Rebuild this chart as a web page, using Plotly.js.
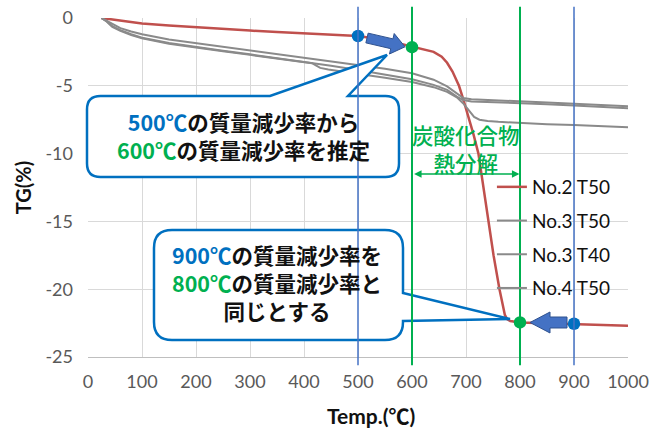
<!DOCTYPE html>
<html><head><meta charset="utf-8">
<script src="https://cdn.plot.ly/plotly-3.0.1.min.js"></script>
<style>html,body{margin:0;padding:0;background:#fff}#chart{width:650px;height:430px}</style>
</head><body><div id="chart"></div>
<script>
// ---------- data ----------
const seriesNames = ['No.2 T50', 'No.3 T50', 'No.3 T40', 'No.4 T50'];

const no2T50_T  = [25, 50, 100, 150, 200, 250, 300, 350, 400, 450, 500, 550, 575, 600, 620, 640, 655, 665, 675, 687, 695, 705, 714, 723, 732, 741, 751, 762, 768, 772, 776, 782, 800, 850, 900, 950, 1000];
const no2T50_TG = [0, -0.15, -0.4, -0.56, -0.7, -0.82, -0.93, -1.03, -1.13, -1.23, -1.33, -1.63, -1.88, -2.15, -2.3, -2.5, -2.85, -3.3, -3.95, -5.0, -6.0, -7.3, -8.6, -10.0, -12.5, -15.0, -17.5, -20.0, -21.2, -21.9, -22.2, -22.35, -22.45, -22.5, -22.55, -22.62, -22.7];

const no3T50_T  = [25, 35, 45, 60, 80, 100, 150, 200, 250, 300, 350, 400, 450, 500, 550, 600, 640, 665, 683, 695, 710, 750, 800, 850, 900, 950, 1000];
const no3T50_TG = [0, -0.2, -0.45, -0.75, -1.0, -1.2, -1.58, -1.85, -2.1, -2.35, -2.62, -2.9, -3.18, -3.47, -3.75, -4.08, -4.55, -5.05, -5.6, -5.9, -6.0, -6.05, -6.15, -6.23, -6.32, -6.41, -6.5];

const no3T40_T  = [25, 35, 45, 60, 80, 100, 150, 200, 250, 300, 350, 400, 450, 500, 550, 600, 640, 665, 683, 695, 710, 750, 800, 850, 900, 950, 1000];
const no3T40_TG = [0, -0.25, -0.6, -0.9, -1.2, -1.45, -1.85, -2.15, -2.42, -2.68, -2.95, -3.22, -3.52, -3.83, -4.15, -4.52, -4.93, -5.3, -5.8, -6.05, -6.15, -6.2, -6.28, -6.36, -6.46, -6.56, -6.66];

const no4T50_T  = [25, 35, 45, 60, 80, 100, 150, 200, 250, 300, 350, 400, 415, 422, 430, 445, 500, 550, 600, 640, 665, 683, 695, 705, 715, 725, 740, 760, 800, 850, 900, 950, 1000];
const no4T50_TG = [0, -0.28, -0.65, -0.95, -1.25, -1.5, -1.9, -2.2, -2.46, -2.72, -2.98, -3.25, -3.33, -3.5, -3.68, -3.8, -4.1, -4.4, -4.72, -5.1, -5.45, -5.85, -6.3, -6.8, -7.3, -7.5, -7.6, -7.66, -7.76, -7.84, -7.9, -7.97, -8.05];

// marked points (500/600/800/900 °C on No.2 T50)
const markT  = [500, 600, 800, 900];
const markTG = [-1.33, -2.15, -22.45, -22.55];

const refLineT = [500, 600, 800, 900];

const xTickVals = [0, 100, 200, 300, 400, 500, 600, 700, 800, 900, 1000];
const xTickText = ['0', '100', '200', '300', '400', '500', '600', '700', '800', '900', '1000'];
const yTickVals = [0, -5, -10, -15, -20, -25];
const yTickText = ['0', '-5', '-10', '-15', '-20', '-25'];

// ---------- styling ----------
const RED = '#C0504D', GRAY = '#8A8A8A', BLUE = '#4472C4', DBLUE = '#0070C0', GREEN = '#00B050';
const markColors = [DBLUE, GREEN, GREEN, DBLUE];
const refLineColors = [BLUE, GREEN, GREEN, BLUE];
const refLineWidths = [1.5, 2, 2, 1.5];

const W = 650, H = 430, ML = 88, MR = 22, MT = 18, MB = 73;
const PW = W - ML - MR, PH = H - MT - MB;
const px = (x) => ((x - ML) / PW).toFixed(5);
const py = (y) => ((H - MB - y) / PH).toFixed(5);
const P = (x, y) => px(x) + ',' + py(y);

function calloutTop(x0, y0, x1, y1, r, b0, b1, tx, ty) {
  return 'M' + P(x0 + r, y0) + ' L' + P(b0, y0) + ' L' + P(tx, ty) + ' L' + P(b1, y0) +
    ' L' + P(x1 - r, y0) + ' Q' + P(x1, y0) + ' ' + P(x1, y0 + r) +
    ' L' + P(x1, y1 - r) + ' Q' + P(x1, y1) + ' ' + P(x1 - r, y1) +
    ' L' + P(x0 + r, y1) + ' Q' + P(x0, y1) + ' ' + P(x0, y1 - r) +
    ' L' + P(x0, y0 + r) + ' Q' + P(x0, y0) + ' ' + P(x0 + r, y0) + ' Z';
}
function calloutRight(x0, y0, x1, y1, r, b0, b1, tx, ty) {
  return 'M' + P(x0 + r, y0) + ' L' + P(x1 - r, y0) + ' Q' + P(x1, y0) + ' ' + P(x1, y0 + r) +
    ' L' + P(x1, b0) + ' L' + P(tx, ty) + ' L' + P(x1, b1) +
    ' L' + P(x1, y1 - r) + ' Q' + P(x1, y1) + ' ' + P(x1 - r, y1) +
    ' L' + P(x0 + r, y1) + ' Q' + P(x0, y1) + ' ' + P(x0, y1 - r) +
    ' L' + P(x0, y0 + r) + ' Q' + P(x0, y0) + ' ' + P(x0 + r, y0) + ' Z';
}
function blockArrow(tx0, ty0, hx, hy, bw, hw, hl) {
  const dx = hx - tx0, dy = hy - ty0, L = Math.hypot(dx, dy);
  const ux = dx / L, uy = dy / L, nx = -uy, ny = ux;
  const bx = hx - ux * hl, by = hy - uy * hl;
  const pts = [
    [tx0 + nx * bw, ty0 + ny * bw], [bx + nx * bw, by + ny * bw], [bx + nx * hw, by + ny * hw],
    [hx, hy],
    [bx - nx * hw, by - ny * hw], [bx - nx * bw, by - ny * bw], [tx0 - nx * bw, ty0 - ny * bw]
  ];
  return 'M' + pts.map(p => P(p[0], p[1])).join(' L') + ' Z';
}

const traces = [
  {x: no2T50_T, y: no2T50_TG, name: seriesNames[0], legendgroup: 'a', mode: 'lines', line: {color: RED, width: 2.5}},
  {x: no3T50_T, y: no3T50_TG, name: seriesNames[1], legendgroup: 'b', mode: 'lines', line: {color: GRAY, width: 2}},
  {x: no3T40_T, y: no3T40_TG, name: seriesNames[2], legendgroup: 'c', mode: 'lines', line: {color: GRAY, width: 2}},
  {x: no4T50_T, y: no4T50_TG, name: seriesNames[3], legendgroup: 'd', mode: 'lines', line: {color: GRAY, width: 2}},
  {x: markT, y: markTG, mode: 'markers', showlegend: false, hoverinfo: 'skip',
   marker: {size: 12.5, color: markColors, line: {width: 0}}}
];

const shapes = [];
shapes.push({type: 'path', xref: 'paper', yref: 'paper', layer: 'above',
  path: calloutTop(87, 96, 399, 177, 13.5, 270, 348, 387, 55),
  line: {color: DBLUE, width: 2.5}, fillcolor: '#FFFFFF'});
shapes.push({type: 'path', xref: 'paper', yref: 'paper', layer: 'above',
  path: calloutRight(154, 230, 403, 340, 18, 293, 321, 510, 319),
  line: {color: DBLUE, width: 2.5}, fillcolor: '#FFFFFF'});
refLineT.forEach((t, i) => {
  shapes.push({type: 'line', xref: 'x', yref: 'paper', layer: 'above', x0: t, x1: t,
    y0: -0.024, y1: 1.033, line: {color: refLineColors[i], width: refLineWidths[i]}});
});
shapes.push({type: 'path', xref: 'paper', yref: 'paper', layer: 'above',
  path: blockArrow(367, 38, 405, 46.8, 5, 10.5, 13.5),
  line: {color: '#2F528F', width: 1}, fillcolor: BLUE});
shapes.push({type: 'path', xref: 'paper', yref: 'paper', layer: 'above',
  path: blockArrow(567, 322.5, 530, 322.5, 5.5, 10.5, 20),
  line: {color: '#2F528F', width: 1}, fillcolor: BLUE});

const JP = '"Noto Sans CJK JP", "Noto Sans", sans-serif';
const annotations = [
  {xref: 'paper', yref: 'paper', x: px(243), y: py(136), xanchor: 'center', yanchor: 'middle', showarrow: false,
   align: 'center', font: {family: JP, size: 21.5, color: '#111111', weight: 'bold'},
   text: '<span style="color:' + DBLUE + '">500℃</span>の質量減少率から<br><span style="color:' + GREEN + '">600℃</span>の質量減少率を推定'},
  {xref: 'paper', yref: 'paper', x: px(277), y: py(283), xanchor: 'center', yanchor: 'middle', showarrow: false,
   align: 'center', font: {family: JP, size: 21.5, color: '#111111', weight: 'bold'},
   text: '<span style="color:' + DBLUE + '">900℃</span>の質量減少率を<br><span style="color:' + GREEN + '">800℃</span>の質量減少率と<br>同じとする'},
  {xref: 'paper', yref: 'paper', x: px(466), y: py(149), xanchor: 'center', yanchor: 'middle', showarrow: false,
   align: 'center', font: {family: JP, size: 21.5, color: GREEN, weight: 500},
   text: '炭酸化合物<br>熱分解'},
  {xref: 'x', yref: 'y', axref: 'x', ayref: 'y', x: 799, y: -11.5, ax: 601, ay: -11.5, text: '',
   showarrow: true, arrowside: 'end+start', arrowhead: 2, arrowsize: 1, arrowwidth: 1.5,
   arrowcolor: GREEN, standoff: 0, startstandoff: 0, startarrowhead: 2},
  // x-axis title (placed as in the reference, slightly right of centre)
  {xref: 'paper', yref: 'paper', x: px(371), y: py(415), xanchor: 'center', yanchor: 'middle', showarrow: false,
   font: {family: 'Lato, sans-serif', size: 21, color: '#111111', weight: 'bold'},
   text: 'Temp.(<span style="font-family:Noto Sans CJK JP">℃</span>)'}
];

const layout = {
  width: W, height: H,
  margin: {l: ML, r: MR, t: MT, b: MB, pad: 0},
  paper_bgcolor: '#FFFFFF', plot_bgcolor: '#FFFFFF',
  font: {family: 'Lato, "Liberation Sans", sans-serif', color: '#595959'},
  showlegend: true,
  legend: {x: 0.748, y: 0.5575, xanchor: 'left', yanchor: 'top', bgcolor: 'rgba(0,0,0,0)',
    borderwidth: 0, traceorder: 'grouped', tracegroupgap: 6,
    font: {family: 'Lato, "Liberation Sans", sans-serif', size: 19, color: '#111111'}},
  xaxis: {range: [0, 1000], tickvals: xTickVals, ticktext: xTickText, showgrid: true, gridcolor: '#D9D9D9', gridwidth: 1,
    zeroline: false, showline: true, linecolor: '#BFBFBF', linewidth: 1, ticks: '', ticklabelstandoff: 8,
    tickfont: {size: 18, color: '#595959'}},
  yaxis: {range: [-25, 0], tickvals: yTickVals, ticktext: yTickText, showgrid: true, gridcolor: '#D9D9D9', gridwidth: 1,
    zeroline: false, showline: false, ticks: '', ticklabelstandoff: 14,
    tickfont: {size: 18, color: '#595959'},
    title: {text: 'TG(%)', standoff: 8, font: {size: 20, color: '#111111', weight: 'bold'}}},
  shapes: shapes,
  annotations: annotations
};

Plotly.newPlot('chart', traces, layout, {displayModeBar: false, staticPlot: true});
</script>
</body></html>
